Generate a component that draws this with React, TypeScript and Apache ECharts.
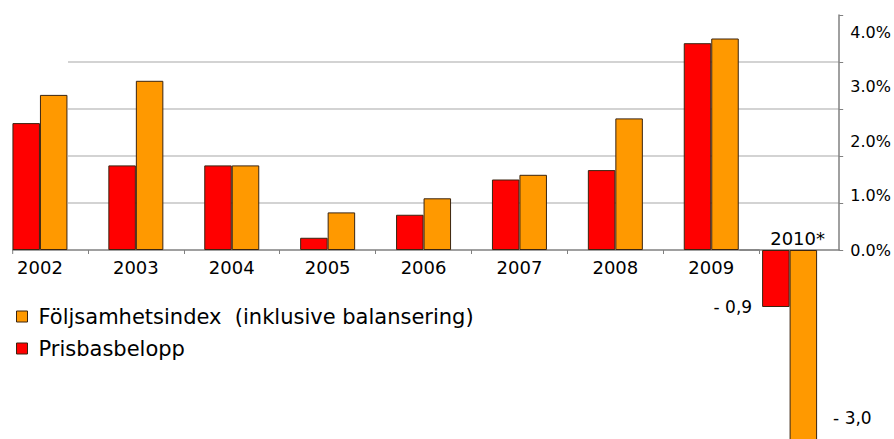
import React, { useEffect, useRef } from "react";
import * as echarts from "echarts";

const years = ["2002", "2003", "2004", "2005", "2006", "2007", "2008", "2009"];
const prisbasbelopp = [2.7, 1.8, 1.8, 0.26, 0.75, 1.5, 1.7, 4.4];
const foljsamhet = [3.3, 3.6, 1.8, 0.8, 1.1, 1.6, 2.8, 4.5];
const year2010 = ["2010*"];
const prisbas2010 = [-0.9];
const foljsamhet2010 = [-3.0];

const NAME_F = "Följsamhetsindex  (inklusive balansering)";
const NAME_P = "Prisbasbelopp";
const RED = "#ff0000";
const ORANGE = "#ff9900";
const BORDER = "#3a2410";
const FONT = "DejaVu Sans";
const DX = 8; // the chart's canvas starts 8px left of the page

export default function App() {
  const ref = useRef<HTMLDivElement>(null);
  useEffect(() => {
    if (!ref.current) return;
    const chart = echarts.init(ref.current, null, { renderer: "svg" });
    const fmt = (v: number) => "- " + Math.abs(v).toFixed(1).replace(".", ",");
    const g = (o: any) => ({ ...o, outerBoundsMode: "none", containLabel: false });
    chart.setOption({
      animation: false,
      backgroundColor: "#ffffff",
      textStyle: { fontFamily: FONT },
      grid: [
        g({ left: -8 + DX, width: 767.2, top: 15, height: 235 }),
        g({ left: 68 + DX, width: 771.2, top: 15, height: 235 }),
        g({ left: 68 + DX, width: 771.2, top: 32, height: 218 }),
        g({ left: 740 + DX, width: 99.2, top: 250, height: 202.7 }),
      ],
      graphic: [
        {
          type: "rect",
          z: 100,
          shape: { x: 0, y: 247, width: 12 + DX, height: 9 },
          style: { fill: "#ffffff" },
        },
        {
          type: "line",
          z: 101,
          shape: { x1: 12.7 + DX, y1: 250, x2: 12.7 + DX, y2: 254 },
          style: { stroke: "#808080", lineWidth: 1 },
        },
      ],
      legend: {
        orient: "vertical",
        left: 11 + DX,
        top: 301,
        itemWidth: 11,
        itemHeight: 11,
        itemGap: 11,
        icon: "rect",
        data: [NAME_F, NAME_P],
        itemStyle: { borderColor: BORDER, borderWidth: 1 },
        textStyle: { fontFamily: FONT, fontSize: 21, color: "#000", padding: [0, 0, 0, 6] },
      },
      xAxis: [
        {
          type: "category",
          gridIndex: 0,
          data: years,
          axisLine: { lineStyle: { color: "#808080", width: 1.5 } },
          axisTick: { show: true, length: 4, lineStyle: { color: "#808080" } },
          axisLabel: { fontFamily: FONT, fontSize: 18, color: "#000", margin: 8 },
        },
        { type: "value", gridIndex: 1, show: false, min: 0, max: 1 },
        { type: "value", gridIndex: 2, show: false, min: 0, max: 1 },
        {
          type: "category",
          gridIndex: 3,
          data: year2010,
          position: "top",
          axisLine: { lineStyle: { color: "#808080", width: 1.5 } },
          axisTick: { show: false },
          axisLabel: {
            fontFamily: FONT,
            fontSize: 18,
            color: "#000",
            margin: 3,
            padding: [0, 0, 0, 16],
          },
        },
      ],
      yAxis: [
        { type: "value", gridIndex: 0, min: 0, max: 5, show: false },
        {
          type: "value",
          gridIndex: 1,
          position: "right",
          min: 0,
          max: 5,
          interval: 1,
          axisLine: { show: true, onZero: false, lineStyle: { color: "#808080", width: 1.5 } },
          axisTick: { show: true, length: 4, lineStyle: { color: "#808080" } },
          axisLabel: { show: false },
          splitLine: {
            show: true,
            showMinLine: false,
            showMaxLine: false,
            lineStyle: { color: "#c4c4c4", width: 1.5 },
          },
        },
        {
          type: "value",
          gridIndex: 2,
          position: "right",
          min: 0,
          max: 4,
          interval: 1,
          axisLine: { show: false, onZero: false },
          axisTick: { show: false },
          splitLine: { show: false },
          axisLabel: {
            fontFamily: FONT,
            fontSize: 16,
            color: "#000",
            margin: 11,
            formatter: (v: number) => v.toFixed(1) + "%",
          },
        },
        { type: "value", gridIndex: 3, min: -3.2, max: 0, show: false },
      ],
      series: [
        {
          name: NAME_P,
          type: "bar",
          xAxisIndex: 0,
          yAxisIndex: 0,
          data: prisbasbelopp,
          barWidth: 27.5,
          barGap: "0%",
          itemStyle: { color: RED, borderColor: BORDER, borderWidth: 1 },
        },
        {
          name: NAME_F,
          type: "bar",
          xAxisIndex: 0,
          yAxisIndex: 0,
          data: foljsamhet,
          barWidth: 27.5,
          barGap: "0%",
          itemStyle: { color: ORANGE, borderColor: BORDER, borderWidth: 1 },
        },
        {
          name: NAME_P,
          type: "bar",
          xAxisIndex: 3,
          yAxisIndex: 3,
          data: prisbas2010,
          barWidth: 27.5,
          barGap: "0%",
          itemStyle: { color: RED, borderColor: BORDER, borderWidth: 1 },
          label: {
            show: true,
            position: "left",
            distance: 10,
            offset: [0, 28],
            fontFamily: FONT,
            fontSize: 17,
            color: "#000",
            formatter: (p: any) => fmt(p.value),
          },
        },
        {
          name: NAME_F,
          type: "bar",
          xAxisIndex: 3,
          yAxisIndex: 3,
          data: foljsamhet2010,
          barWidth: 27.5,
          barGap: "0%",
          itemStyle: { color: ORANGE, borderColor: BORDER, borderWidth: 1 },
          label: {
            show: true,
            position: "right",
            distance: 16,
            offset: [0, 73],
            fontFamily: FONT,
            fontSize: 17,
            color: "#000",
            formatter: (p: any) => fmt(p.value),
          },
        },
      ],
    });
    return () => chart.dispose();
  }, []);
  return (
    <div
      ref={ref}
      style={{ width: 920, height: 470, position: "fixed", left: -DX, top: 0 }}
    />
  );
}
